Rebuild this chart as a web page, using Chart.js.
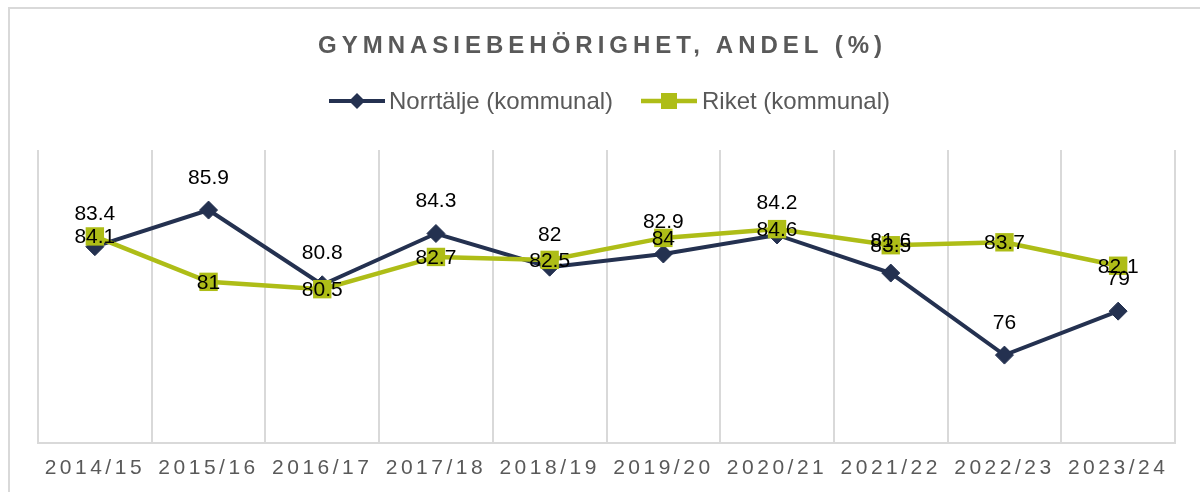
<!DOCTYPE html>
<html>
<head>
<meta charset="utf-8">
<script src="https://cdn.jsdelivr.net/npm/chart.js@4.4.1/dist/chart.umd.min.js"></script>
<style>
html,body{margin:0;padding:0;background:#fff;overflow:hidden;width:1200px;height:492px;}
#frame{position:absolute;left:8px;top:7px;width:1400px;height:700px;border:2px solid #d9d9d9;box-sizing:border-box;}
#chart{position:absolute;left:0;top:0;}
#title{position:absolute;left:318px;top:33px;font:bold 24px "Liberation Sans",Arial,sans-serif;line-height:1;letter-spacing:5px;color:#595959;white-space:nowrap;}
.leg{position:absolute;top:89px;font:24px "Liberation Sans",Arial,sans-serif;line-height:1;color:#595959;white-space:nowrap;}
.legmark{position:absolute;top:89px;}
</style>
</head>
<body>
<div id="frame"></div>
<canvas id="chart" width="1200" height="492"></canvas>
<div id="title">GYMNASIEBEHÖRIGHET, ANDEL (%)</div>
<svg class="legmark" style="left:329px" width="56" height="24">
<line x1="0" y1="12" x2="56" y2="12" stroke="#243150" stroke-width="4"/>
<polygon points="28,4 36,12 28,20 20,12" fill="#243150"/>
</svg>
<div class="leg" style="left:389px">Norrtälje (kommunal)</div>
<svg class="legmark" style="left:641px" width="56" height="24">
<line x1="0" y1="12" x2="56" y2="12" stroke="#aebd17" stroke-width="4.5"/>
<rect x="20" y="4" width="16" height="16" fill="#aebd17"/>
</svg>
<div class="leg" style="left:702px">Riket (kommunal)</div>

<script>
const categories = ['2014/15','2015/16','2016/17','2017/18','2018/19','2019/20','2020/21','2021/22','2022/23','2023/24'];

const norrtalje = [83.4, 85.9, 80.8, 84.3, 82, 82.9, 84.2, 81.6, 76, 79];
const riket = [84.1, 81, 80.5, 82.7, 82.5, 84, 84.6, 83.5, 83.7, 82.1];

const navy = '#243150';
const green = '#aebd17';
const gridColor = '#d9d9d9';

// tick labels are letter-spaced, data labels are not
const spacingPlugin = {
id:'spacing',
beforeDraw(chart){ chart.ctx.letterSpacing = '3.5px'; },
beforeDatasetsDraw(chart){ chart.ctx.letterSpacing = '0px'; }
};

const labelPlugin = {
id:'valueLabels',
afterDatasetsDraw(chart){
const ctx = chart.ctx;
ctx.save();
ctx.letterSpacing = '0px';
ctx.font = '21px "Liberation Sans", Arial, sans-serif';
ctx.fillStyle = '#000';
ctx.textAlign = 'center';
ctx.textBaseline = 'middle';
chart.data.datasets.forEach((ds,i)=>{
const meta = chart.getDatasetMeta(i);
meta.data.forEach((pt,j)=>{
ctx.fillText(String(ds.data[j]), pt.x, pt.y + ds.labelOffset);
});
});
ctx.restore();
}
};

new Chart(document.getElementById('chart'),{
type:'line',
data:{
labels:categories,
datasets:[
{
label:'Norrtälje (kommunal)',
data:norrtalje,
borderColor:navy,
backgroundColor:navy,
borderWidth:4,
pointStyle:'rectRot',
pointRadius:9,
pointBorderWidth:1,
pointBorderColor:navy,
pointBackgroundColor:navy,
tension:0,
order:1,
labelOffset:-32
},
{
label:'Riket (kommunal)',
data:riket,
borderColor:green,
backgroundColor:green,
borderWidth:4.5,
pointStyle:'rect',
pointRadius:13,
pointBorderWidth:0,
pointBackgroundColor:green,
tension:0,
order:0,
labelOffset:1
}
]
},
options:{
responsive:false,
animation:false,
layout:{padding:{left:38,right:25,top:150,bottom:0}},
plugins:{legend:{display:false},title:{display:false},tooltip:{enabled:false}},
scales:{
x:{
offset:true,
grid:{offset:true,color:gridColor,lineWidth:2,drawTicks:false},
border:{display:true,color:gridColor,width:2},
ticks:{
autoSkip:false,
maxRotation:0,
padding:13,
color:'#595959',
font:{family:'"Liberation Sans", Arial, sans-serif',size:21,lineHeight:1.2}
},
afterFit(scale){ scale.height = 49; }
},
y:{
display:false,
min:70,
max:90
}
}
},
plugins:[spacingPlugin,labelPlugin]
});
</script>
</body>
</html>
